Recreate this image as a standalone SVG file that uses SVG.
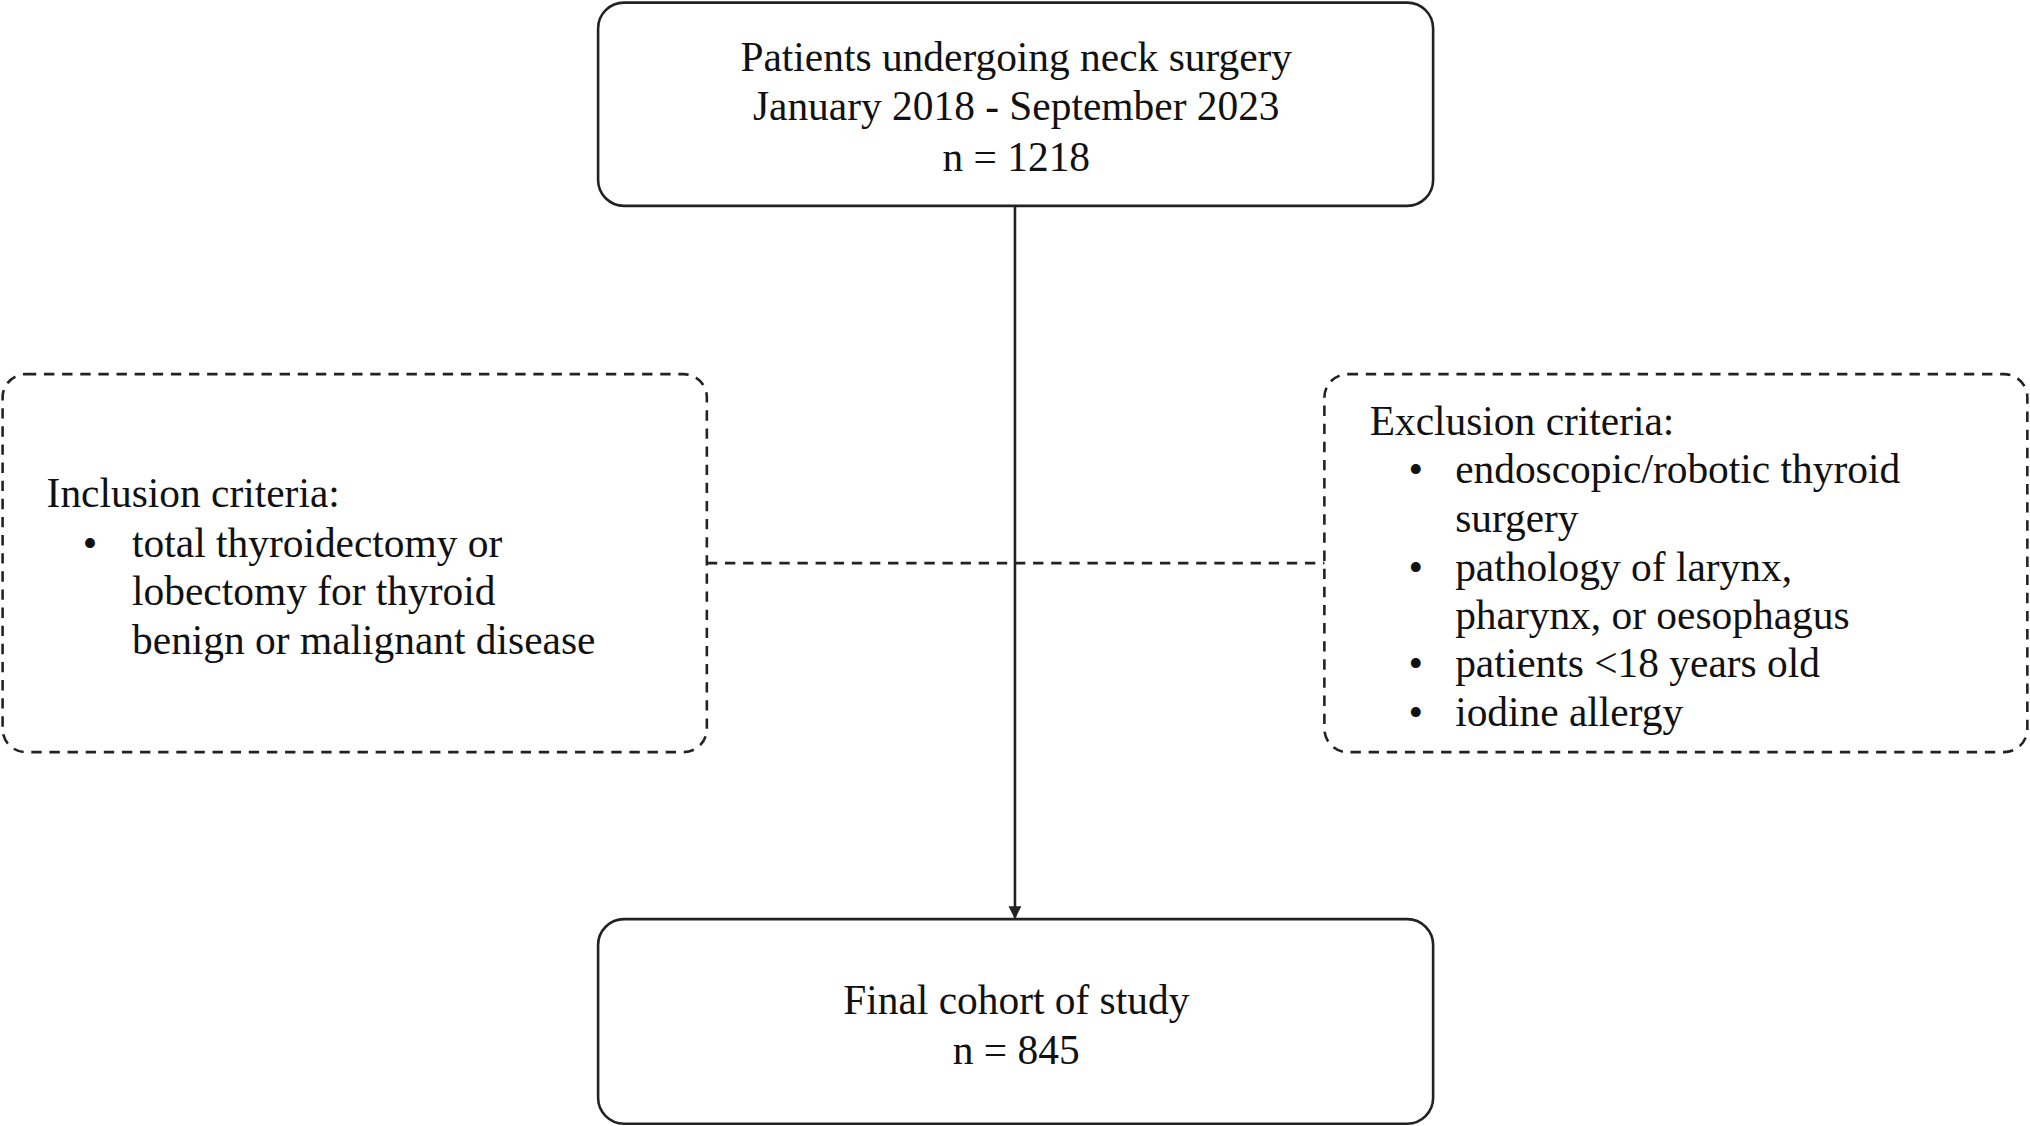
<svg xmlns="http://www.w3.org/2000/svg" width="2030" height="1126" viewBox="0 0 2030 1126">
<style>
text{font-family:"Liberation Serif","Times New Roman",serif;font-size:32px;fill:#111}
.b{fill:#fff;stroke:#222;stroke-width:2}
.d{fill:none;stroke:#222;stroke-width:2;stroke-dasharray:8 6}
.c{text-anchor:middle}
</style>
<defs><marker id="ah" markerWidth="10" markerHeight="10" refX="9" refY="5" orient="auto" markerUnits="userSpaceOnUse"><path d="M0,0 L10,5 L0,10 z" fill="#222"/></marker></defs>
<rect width="2030" height="1126" fill="#fff"/>
<g transform="scale(1.2946)">
<g id="connectors">
<line x1="784" y1="159" x2="784" y2="709" stroke="#222" stroke-width="2" marker-end="url(#ah)"/>
<line x1="546" y1="435" x2="1023" y2="435" class="d"/>
</g>
<g id="top"><rect x="462" y="2" width="645" height="157" rx="20" class="b"/>
<text class="c" x="785" y="55">Patients undergoing neck surgery</text>
<text class="c" x="785" y="93">January 2018 - September 2023</text>
<text class="c" x="785" y="132">n = 1218</text></g>
<g id="inclusion"><rect x="2" y="289" width="544" height="292" rx="18" class="d"/>
<text x="36" y="392">Inclusion criteria:</text>
<text x="64" y="430">•</text><text x="102" y="430">total thyroidectomy or</text>
<text x="102" y="467">lobectomy for thyroid</text>
<text x="102" y="505">benign or malignant disease</text></g>
<g id="exclusion"><rect x="1023" y="289" width="543" height="292" rx="18" class="d"/>
<text x="1058" y="336">Exclusion criteria:</text>
<text x="1088" y="373">•</text><text x="1124" y="373">endoscopic/robotic thyroid</text>
<text x="1124" y="411">surgery</text>
<text x="1088" y="449">•</text><text x="1124" y="449">pathology of larynx,</text>
<text x="1124" y="486">pharynx, or oesophagus</text>
<text x="1088" y="523">•</text><text x="1124" y="523">patients &lt;18 years old</text>
<text x="1088" y="561">•</text><text x="1124" y="561">iodine allergy</text></g>
<g id="final"><rect x="462" y="710" width="645" height="158" rx="20" class="b"/>
<text class="c" x="785" y="783">Final cohort of study</text>
<text class="c" x="785" y="822">n = 845</text></g>
</g>
</svg>
